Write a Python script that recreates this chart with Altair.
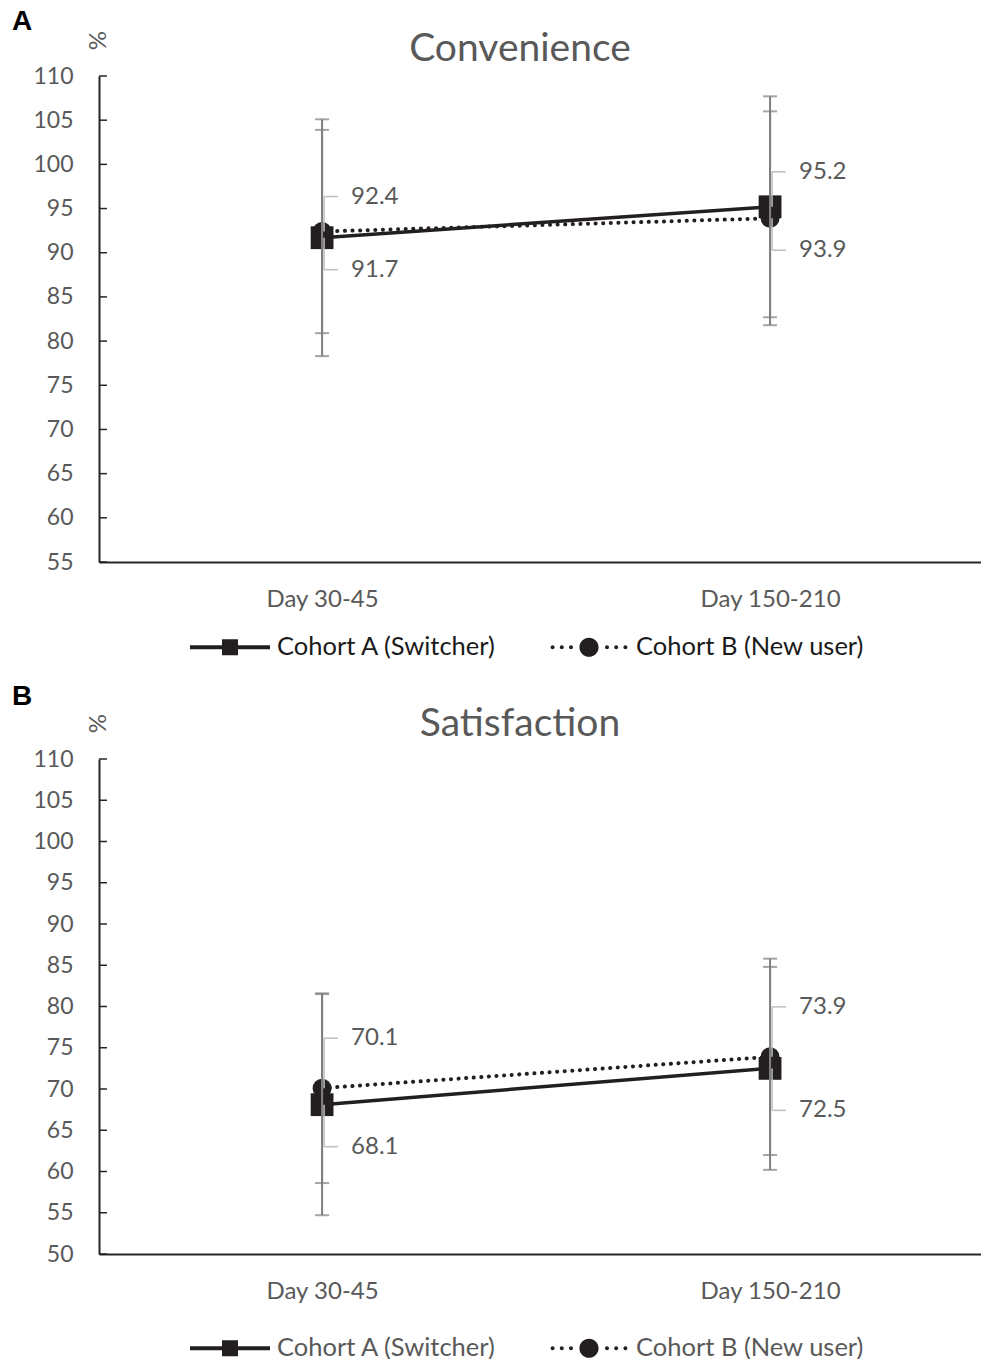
import altair as alt
import pandas as pd

days = ["Day 30-45", "Day 150-210"]
series = ["Cohort A (Switcher)", "Cohort B (New user)"]

conv_a = [91.7, 95.2]
conv_a_err = [13.4, 12.5]
conv_b = [92.4, 93.9]
conv_b_err = [11.5, 12.1]
conv_a_side = ["below", "above"]
conv_b_side = ["above", "below"]
conv_ticks = [55, 60, 65, 70, 75, 80, 85, 90, 95, 100, 105, 110]

sat_a = [68.1, 72.5]
sat_a_err = [13.4, 12.3]
sat_b = [70.1, 73.9]
sat_b_err = [11.5, 11.9]
sat_a_side = ["below", "below"]
sat_b_side = ["above", "above"]
sat_ticks = [50, 55, 60, 65, 70, 75, 80, 85, 90, 95, 100, 105, 110]

FONT = "Lato"
GRAY = "#595959"
DARK = "#231f20"

PATH_A = "M-1,-0.05H1V0.05H-1Z M-0.2,-0.2H0.2V0.2H-0.2Z"
def dot(cx, r=0.05):
    return f"M{cx - r},0a{r},{r} 0 1,0 {2 * r},0a{r},{r} 0 1,0 {-2 * r},0Z"
PATH_B = " ".join([dot(-0.91), dot(-0.68), dot(-0.45), dot(0.45), dot(0.68), dot(0.91)]) + \
    " M-0.24,0a0.24,0.24 0 1,0 0.48,0a0.24,0.24 0 1,0 -0.48,0Z"


def panel(letter, title, a, a_err, b, b_err, a_side, b_side, ticks, height,
          off_up, off_down, legend_color, legend_y, letter_y):
    rows = []
    for i, d in enumerate(days):
        rows.append(dict(day=d, series=series[0], value=a[i], lo=a[i] - a_err[i],
                         hi=a[i] + a_err[i], side=a_side[i], label=f"{a[i]:.1f}"))
        rows.append(dict(day=d, series=series[1], value=b[i], lo=b[i] - b_err[i],
                         hi=b[i] + b_err[i], side=b_side[i], label=f"{b[i]:.1f}"))
    df = pd.DataFrame(rows)
    tdf = pd.DataFrame({"t": ticks})

    xs = alt.Scale(type="point", domain=days, padding=0.4844, align=0.514)
    ys = alt.Scale(domain=[ticks[0], ticks[-1]], nice=False, zero=False)
    x = alt.X("day:N", scale=xs, sort=days,
              axis=alt.Axis(title=None, labelFont=FONT, labelFontSize=24,
                            labelColor=GRAY, domainColor="#262626", domainWidth=2,
                            ticks=False, labelPadding=25, labelAngle=0))
    y = alt.Y("value:Q", scale=ys,
              axis=alt.Axis(values=ticks, title="%", titleAngle=270, titleX=-1,
                            titleY=-36, titleAlign="center", titleBaseline="middle",
                            titleFont=FONT, titleFontSize=24, titleFontWeight="normal",
                            titleColor=GRAY, labelFont=FONT, labelFontSize=23,
                            labelColor=GRAY, labelPadding=26, ticks=False,
                            grid=False, domainColor="#262626", domainWidth=2))

    base = alt.Chart(df)

    inner_ticks = alt.Chart(tdf).mark_rule(color="#262626", strokeWidth=1.5).encode(
        y=alt.Y("t:Q", scale=ys), x=alt.value(0), x2=alt.value(8))

    line_a = base.transform_filter(alt.datum.series == series[0]).mark_line(
        color=DARK, strokeWidth=3.5).encode(x=x, y=y)
    line_b = base.transform_filter(alt.datum.series == series[1]).mark_line(
        color=DARK, strokeWidth=4, strokeDash=[0.1, 7.5], strokeCap="round").encode(x=x, y=y)

    pt_a = base.transform_filter(alt.datum.series == series[0]).mark_point(
        filled=True, shape="square", size=520, color=DARK, opacity=1).encode(x=x, y=y)
    pt_b = base.transform_filter(alt.datum.series == series[1]).mark_point(
        filled=True, shape="circle", size=360, color=DARK, opacity=1).encode(x=x, y=y)

    err = base.mark_rule(color="#7f7f7f", strokeWidth=2).encode(
        x=x, y=alt.Y("lo:Q", scale=ys), y2="hi:Q")
    caps = base.transform_fold(["lo", "hi"], as_=["end", "v"]).mark_tick(
        color="#7f7f7f", thickness=2, size=14, orient="horizontal").encode(
        x=x, y=alt.Y("v:Q", scale=ys))

    layers = [inner_ticks, line_a, line_b, pt_a, pt_b, err, caps]
    for side, off in (("above", -off_up), ("below", off_down)):
        sub = base.transform_filter(alt.datum.side == side)
        layers.append(sub.mark_rule(color="#bfbfbf", strokeWidth=1.5, xOffset=2,
                                    y2Offset=off).encode(
            x=x, y=alt.Y("value:Q", scale=ys), y2="value:Q"))
        layers.append(sub.mark_rule(color="#bfbfbf", strokeWidth=1.5, xOffset=2,
                                    x2Offset=16, yOffset=off, y2Offset=off).encode(
            x=x, x2="day:N", y=alt.Y("value:Q", scale=ys)))
        layers.append(sub.mark_text(align="left", baseline="middle", dx=29, dy=off,
                                    font=FONT, fontSize=24, color=GRAY).encode(
            x=x, y=alt.Y("value:Q", scale=ys), text="label:N"))

    legend_layer = base.transform_filter("false").mark_point(
        filled=True, color=DARK, opacity=1, strokeWidth=0).encode(
        x=x, y=y,
        shape=alt.Shape("series:N",
                        scale=alt.Scale(domain=series, range=[PATH_A, PATH_B]),
                        legend=alt.Legend(title=None, orient="none", direction="horizontal",
                                          legendX=91, legendY=legend_y, symbolSize=6400,
                                          symbolFillColor=DARK, symbolStrokeWidth=0,
                                          labelFont=FONT, labelFontSize=25.5,
                                          labelColor=legend_color, labelOffset=7,
                                          labelLimit=400, columnPadding=52,
                                          symbolOpacity=1)))
    layers.append(legend_layer)

    letter_mark = alt.Chart(pd.DataFrame({"t": [letter]})).mark_text(
        align="left", baseline="middle", font="Liberation Sans", fontWeight="bold",
        fontSize=28, color="#000000").encode(
        x=alt.value(-87), y=alt.value(letter_y), text="t:N")
    layers.append(letter_mark)

    return alt.layer(*layers).properties(
        width=882, height=height,
        title=alt.TitleParams(title, font=FONT, fontSize=39, fontWeight="normal",
                              color=GRAY, anchor="middle", dx=-20, offset=-61))


pa = panel("A", "Convenience", conv_a, conv_a_err, conv_b, conv_b_err,
           conv_a_side, conv_b_side, conv_ticks, 486, 35, 32, "#1a1a1a", 531, -54)
pb = panel("B", "Satisfaction", sat_a, sat_a_err, sat_b, sat_b_err,
           sat_a_side, sat_b_side, sat_ticks, 495, 50, 42, GRAY, 549, -62)

chart = alt.vconcat(pa, pb, spacing=22).resolve_scale(
    shape="independent", x="independent", y="independent").properties(
    padding={"left": 12, "top": 8, "right": 0, "bottom": 0}
).configure_view(stroke=None)

chart.save("out.html", embed_options={"renderer": "svg", "actions": False})
